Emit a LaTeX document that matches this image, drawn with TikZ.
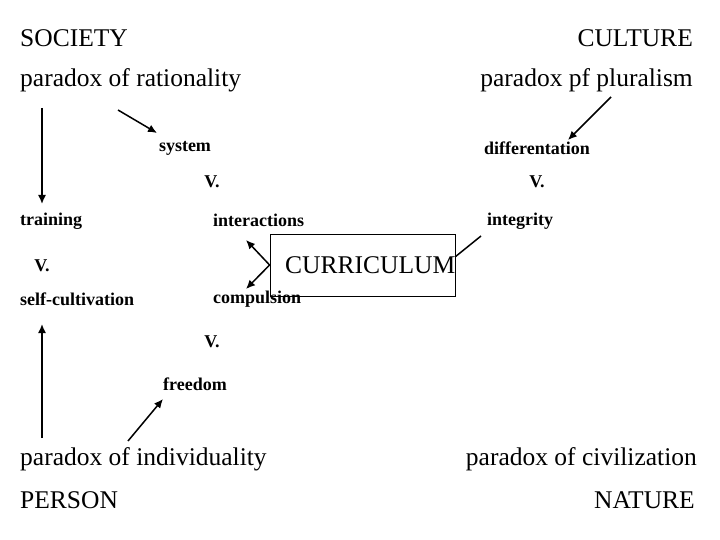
\documentclass[tikz,border=0pt]{standalone}
\usepackage{fontspec}
\setmainfont{Liberation Serif}
\usetikzlibrary{arrows.meta}
\begin{document}
\begin{tikzpicture}[x=1pt,y=-1pt,
  big/.style={font=\fontsize{25.5}{28}\selectfont, inner sep=0pt},
  small/.style={font=\fontsize{18}{21}\selectfont\bfseries, inner sep=0pt},
  arr/.style={line width=1.5pt,-{Latex[length=9pt,width=8pt]}},
  ln/.style={line width=1.5pt}]
\useasboundingbox (0,0) rectangle (720,540);
\node[big,anchor=west] (soc) at (20,38) {SOCIETY};
\node[big,anchor=east] (cul) at (693,38) {CULTURE};
\node[big,anchor=west] (prat) at (20,80) {paradox of rationality};
\node[big,anchor=east] (pplu) at (693,80) {paradox pf pluralism};
\node[small] (sys) at (185,148) {system};
\node[small] (diff) at (537,148) {differentation};
\node[small] (v1) at (212,182) {V.};
\node[small] (v2) at (537,182) {V.};
\node[small,anchor=west] (train) at (20,221) {training};
\node[small,anchor=west] (inter) at (213,220) {interactions};
\node[small,anchor=west] (integ) at (487,221) {integrity};
\node[small] (v3) at (42,266) {V.};
\node[draw,line width=0.8pt,minimum width=185pt,minimum height=62pt,inner sep=0pt] (cur) at (362.5,265) {};
\node[big,anchor=west] (curt) at (285,265) {CURRICULUM};
\node[small,anchor=west] (self) at (20,299) {self-cultivation};
\node[small,anchor=west] (comp) at (213,299) {compulsion};
\node[small] (v4) at (212,342) {V.};
\node[small] (free) at (195,384) {freedom};
\node[big,anchor=west] (pind) at (20,459) {paradox of individuality};
\node[big,anchor=east] (pciv) at (697,459) {paradox of civilization};
\node[big,anchor=west] (pers) at (20,500) {PERSON};
\node[big,anchor=east] (nat) at (695,500) {NATURE};
\coordinate (a1) at (118,110); \coordinate (a2) at (157,133);
\coordinate (b1) at (611,97); \coordinate (b2) at (568,140);
\coordinate (c1) at (42,108); \coordinate (c2) at (42,204);
\coordinate (d1) at (42,438); \coordinate (d2) at (42,324);
\coordinate (e1) at (128,441); \coordinate (e2) at (163,399);
\coordinate (f0) at (cur.west); \coordinate (f1) at (246,240); \coordinate (f2) at (246,289);
\coordinate (g0) at (455,257); \coordinate (g1) at (481,236);
\draw[arr] (a1) -- (a2);
\draw[arr] (b1) -- (b2);
\draw[arr] (c1) -- (c2);
\draw[arr] (d1) -- (d2);
\draw[arr] (e1) -- (e2);
\draw[arr] (f0) -- (f1);
\draw[arr] (f0) -- (f2);
\draw[ln] (g0) -- (g1);
\end{tikzpicture}
\end{document}
